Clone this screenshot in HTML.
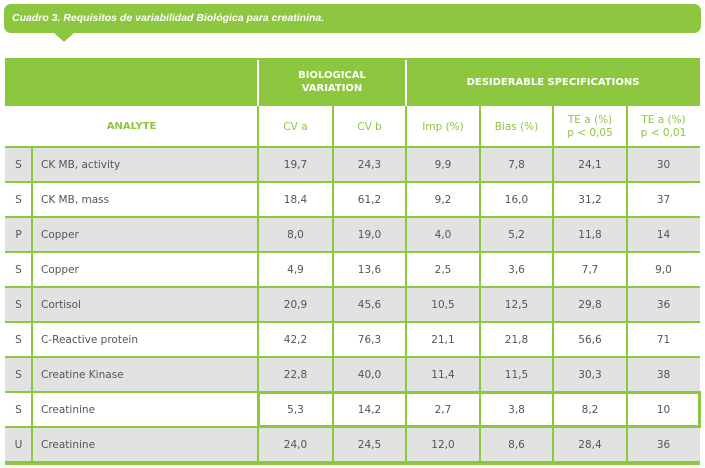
<!DOCTYPE html>
<html><head><meta charset="utf-8"><style>
body{margin:0;width:705px;height:468px;background:#fff;position:relative;overflow:hidden;font-family:"DejaVu Sans","Liberation Sans",sans-serif;}
.a{position:absolute;box-sizing:border-box;}
.banner{left:4px;top:4px;width:697px;height:29px;background:#8dc63f;border-radius:7px;color:#fff;font-style:italic;font-size:10.5px;padding:8px 0 0 8px;font-family:"Liberation Sans",sans-serif;font-weight:bold}
.tri{left:53px;top:32px;width:0;height:0;border-left:11px solid transparent;border-right:11px solid transparent;border-top:10px solid #8dc63f}
.c{position:absolute;box-sizing:border-box;display:flex;align-items:center;justify-content:center;text-align:center;font-size:10.5px;color:#555;}
.g{background:#e2e2e1}
.vl{position:absolute;width:2px;background:#8dc63f}
.hl{position:absolute;height:2px;background:#8dc63f;left:5px;width:695px}
</style></head><body>
<div class="a banner">Cuadro 3. Requisitos de variabilidad Biológica para creatinina.</div>
<div class="a tri"></div>
<div class="a" style="left:5px;top:58px;width:695px;height:48px;background:#8dc63f"></div>
<div class="c" style="left:258px;top:58px;width:148px;height:48px;color:#fff;font-weight:bold;font-size:10px;line-height:13px">BIOLOGICAL<br>VARIATION</div>
<div class="c" style="left:406px;top:58px;width:294px;height:48px;color:#fff;font-weight:bold;font-size:10px">DESIDERABLE SPECIFICATIONS</div>
<div class="c" style="left:5px;top:106px;width:253px;height:41px;color:#8dc63f;font-weight:bold;font-size:10px">ANALYTE</div>
<div class="c" style="left:258px;top:106px;width:75px;height:41px;color:#8dc63f">CV a</div>
<div class="c" style="left:333px;top:106px;width:73px;height:41px;color:#8dc63f">CV b</div>
<div class="c" style="left:406px;top:106px;width:74px;height:41px;color:#8dc63f">Imp (%)</div>
<div class="c" style="left:480px;top:106px;width:73px;height:41px;color:#8dc63f">Bias (%)</div>
<div class="c" style="left:553px;top:106px;width:74px;height:41px;color:#8dc63f;line-height:13px">TE a (%)<br>p &lt; 0,05</div>
<div class="c" style="left:627px;top:106px;width:73px;height:41px;color:#8dc63f;line-height:13px">TE a (%)<br>p &lt; 0,01</div>
<div id="rows"></div>
<script>
var d=[["S","CK MB, activity","19,7","24,3","9,9","7,8","24,1","30"],
["S","CK MB, mass","18,4","61,2","9,2","16,0","31,2","37"],
["P","Copper","8,0","19,0","4,0","5,2","11,8","14"],
["S","Copper","4,9","13,6","2,5","3,6","7,7","9,0"],
["S","Cortisol","20,9","45,6","10,5","12,5","29,8","36"],
["S","C-Reactive protein","42,2","76,3","21,1","21,8","56,6","71"],
["S","Creatine Kinase","22,8","40,0","11,4","11,5","30,3","38"],
["S","Creatinine","5,3","14,2","2,7","3,8","8,2","10"],
["U","Creatinine","24,0","24,5","12,0","8,6","28,4","36"]];
var xs=[5,32,258,333,406,480,553,627,700],h="";
for(var i=0;i<9;i++){var y=147+i*35;
 if(i%2==0)h+='<div class="a g" style="left:5px;top:'+y+'px;width:695px;height:35px"></div>';
 for(var j=0;j<8;j++){var st=j==1?'justify-content:flex-start;padding-left:9px;':'';
  h+='<div class="c" style="'+st+'left:'+xs[j]+'px;top:'+y+'px;width:'+(xs[j+1]-xs[j])+'px;height:35px">'+d[i][j]+'</div>';}
 h+='<div class="hl" style="top:'+(y-1)+'px"></div>';}
h+='<div class="hl" style="top:461px;height:4px"></div>';
[32].forEach(function(x){h+='<div class="vl" style="left:'+(x-1)+'px;top:147px;height:315px"></div>';});
[258,406].forEach(function(x){h+='<div class="vl" style="left:'+(x-1)+'px;top:106px;height:356px"></div><div class="vl" style="background:#fff;left:'+(x-1)+'px;top:60px;height:46px"></div>';});
[333,480,553,627].forEach(function(x){h+='<div class="vl" style="left:'+(x-1)+'px;top:106px;height:356px"></div>';});
h+='<div class="a" style="left:257px;top:391px;width:444px;height:37px;border:3px solid #8dc63f"></div>';
document.getElementById("rows").innerHTML=h;
</script>
</body></html>
